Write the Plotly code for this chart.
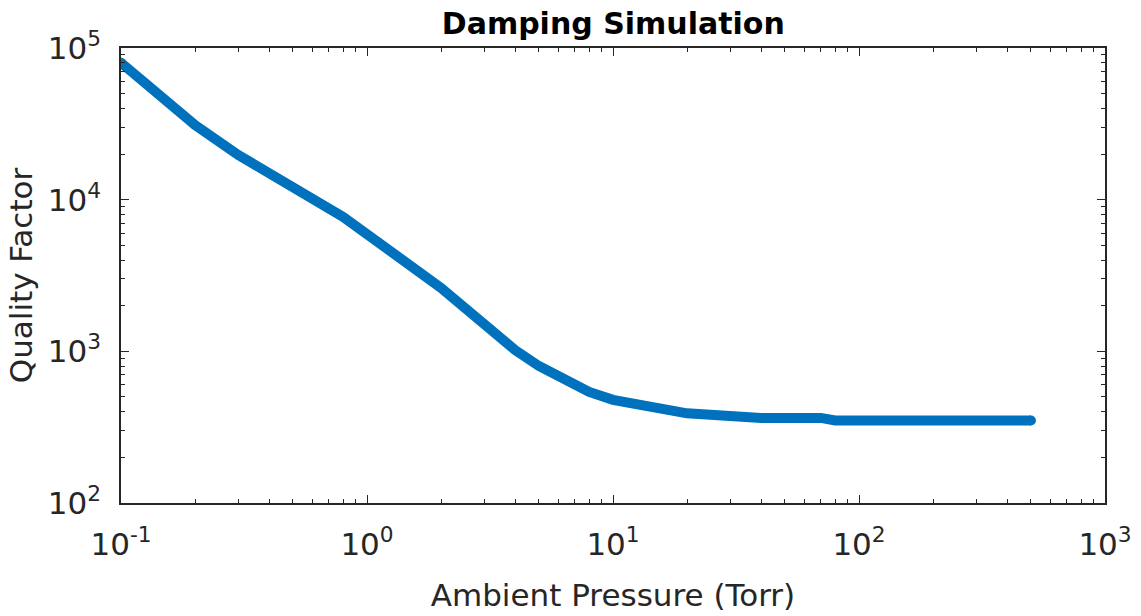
import plotly.graph_objects as go

pressure_torr = [0.1, 0.2, 0.3, 0.8, 2, 3, 4, 5, 6, 7, 8, 10, 20, 40, 70, 80, 500]
quality_factor = [80000, 31000, 19700, 7700, 2620, 1490, 1020, 800, 680, 595, 540, 479, 390, 364, 364, 350, 350]

title_text = "Damping Simulation"
x_label = "Ambient Pressure (Torr)"
y_label = "Quality Factor"

x_exponents = [-1, 0, 1, 2, 3]
y_exponents = [2, 3, 4, 5]
x_tick_labels = ["10<sup>-1</sup>", "10<sup>0</sup>", "10<sup>1</sup>", "10<sup>2</sup>", "10<sup>3</sup>"]
y_tick_labels = ["10<sup>2</sup>", "10<sup>3</sup>", "10<sup>4</sup>", "10<sup>5</sup>"]

line_color = "#0072BD"
axis_color = "#262626"
font_family = "DejaVu Sans, Liberation Sans, Arial, sans-serif"


def minor_vals(exps):
    return [m * 10.0 ** e for e in exps[:-1] for m in range(2, 10)]


fig = go.Figure()
fig.add_trace(go.Scatter(
    x=pressure_torr, y=quality_factor, mode="lines",
    line=dict(color=line_color, width=10), showlegend=False, hoverinfo="x+y",
))
fig.add_trace(go.Scatter(
    x=[pressure_torr[0], pressure_torr[-1]], y=[quality_factor[0], quality_factor[-1]],
    mode="markers", marker=dict(color=line_color, size=10), showlegend=False, hoverinfo="skip",
))

axis_common = dict(
    type="log", showgrid=False, zeroline=False, automargin=False,
    showline=True, linecolor=axis_color, linewidth=1.5, mirror="ticks",
    ticks="inside", ticklen=8, tickwidth=1.3, tickcolor=axis_color,
    tickfont=dict(family=font_family, size=31, color=axis_color),
)

fig.update_layout(
    width=1141, height=616,
    margin=dict(l=121, r=36, t=48, b=113),
    paper_bgcolor="white", plot_bgcolor="white",
    title=dict(text=f"<b>{title_text}</b>", x=0.5375, xanchor="center", y=0.962, yanchor="middle",
               font=dict(family=font_family, size=30, color="black")),
    xaxis=dict(range=[-1, 3], tickmode="array",
               tickvals=[10.0 ** e for e in x_exponents], ticktext=x_tick_labels,
               ticklabelstandoff=13,
               minor=dict(tickvals=minor_vals(x_exponents), ticks="inside", ticklen=4,
                          tickwidth=1.2, tickcolor=axis_color, showgrid=False),
               title=dict(text=x_label, standoff=23,
                          font=dict(family=font_family, size=31, color=axis_color)),
               **axis_common),
    yaxis=dict(range=[2, 5], tickmode="array",
               tickvals=[10.0 ** e for e in y_exponents], ticktext=y_tick_labels,
               ticklabelstandoff=12,
               minor=dict(tickvals=minor_vals(y_exponents), ticks="inside", ticklen=4,
                          tickwidth=1.2, tickcolor=axis_color, showgrid=False),
               title=dict(text=y_label, standoff=6,
                          font=dict(family=font_family, size=31, color=axis_color)),
               **axis_common),
)

fig.write_html("out.html")
